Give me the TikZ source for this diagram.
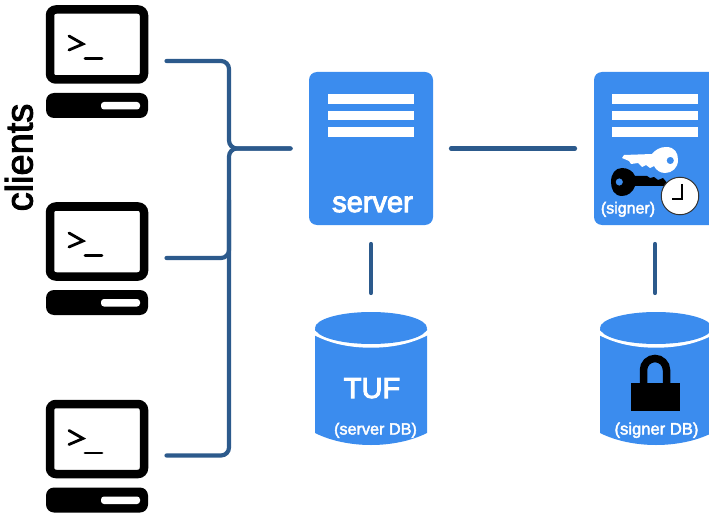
\documentclass[tikz,border=0pt]{standalone}
\usepackage{fontspec}
\setmainfont{Liberation Sans}
\newfontface\medfont[FakeBold=2.5]{Liberation Sans}
\newfontface\largefont[FakeBold=3.5]{Liberation Sans}
\newfontface\heavyfont[FakeBold=2.6]{Liberation Sans}
\definecolor{boxblue}{HTML}{3B8CEE}
\definecolor{linkblue}{HTML}{2C5A8C}
\tikzset{
  x=1pt,y=-1pt,
  link/.style={draw=linkblue,line width=4.2pt,line cap=round,rounded corners=8pt},
  host/.style={draw=black,line width=8.5pt,fill=white,rounded corners=6pt,minimum width=94pt,minimum height=70pt,inner sep=0pt,outer sep=0pt},
  hostbase/.style={fill=black,rounded corners=8pt,minimum width=102pt,minimum height=25pt,inner sep=0pt,outer sep=0pt},
  panel/.style={fill=boxblue,rounded corners=8pt,minimum width=124pt,minimum height=153pt,inner sep=0pt,outer sep=0pt},
  bar/.style={fill=white,minimum width=86pt,minimum height=9.6pt,inner sep=0pt,outer sep=0pt},
  dbspot/.style={minimum width=112pt,minimum height=133pt,inner sep=0pt,outer sep=0pt},
  label/.style={text=white,inner sep=0pt,outer sep=0pt,anchor=base},
}
\begin{document}
\begin{tikzpicture}
\useasboundingbox (0,0) rectangle (709,513);
% clients
\foreach \n/\d in {1/0,2/197,3/394.5}{
  \node[host] (client\n) at (97,44.5+\d) {};
  \node[hostbase] (base\n) at (97,105.5+\d) {};
  \fill[white,rounded corners=3pt] (101,102+\d) rectangle (140,109.5+\d);
  \draw[line width=2.8pt,line cap=round] (69,36+\d) -- (83,44+\d) -- (69,50+\d);
  \draw[line width=2.8pt,line cap=round] (85,58.5+\d) -- (102,58.5+\d);
  \coordinate (tap\n) at (166.5,61+\d);
}
\node[rotate=90,anchor=base,inner sep=0pt] (clientslabel) at (32.5,157.5) {\fontsize{38pt}{38pt}\heavyfont clients};
% server
\node[panel] (server) at (371,148.5) {};
\node[panel] (signer) at (656,148.5) {};
\foreach \b/\x in {server/371,signer/655}{
  \node[bar] (\b bara) at (\x,99) {};
  \node[bar] (\b barb) at (\x,115.5) {};
  \node[bar] (\b barc) at (\x,132) {};
}
\node[label] (servertext) at (372.5,212) {\fontsize{29pt}{29pt}\largefont server};
% keys
\fill[white,even odd rule]
  (666,147) .. controls (675,147) and (678,153) .. (678,160)
  .. controls (678,168) and (672,173) .. (665,173)
  .. controls (660,173) and (656,170) .. (654,166)
  -- (650,168) -- (646,165) -- (642,167) -- (638,163) -- (631,164) -- (629,161) -- (622,158) -- (624,155) -- (652,154)
  .. controls (655,150) and (660,147) .. (666,147)
  (674,160.5) arc[start angle=0,end angle=360,radius=3.7];
\fill[black,even odd rule]
  (622,168) .. controls (628,168) and (633,171) .. (635,176)
  -- (647,176) -- (650,178) -- (654,177) -- (658,180) -- (663,178) -- (668,184) -- (666,186) -- (635,186)
  .. controls (633,192) and (628,196) .. (622,196)
  .. controls (614,196) and (611,189) .. (611,182)
  .. controls (611,174) and (615,168) .. (622,168)
  (623,182) arc[start angle=0,end angle=360,radius=3.7];
% clock
\node[circle,draw=black!80,line width=1pt,fill=white,minimum size=37.5pt,inner sep=0pt] (clock) at (680,196) {};
\draw[line width=1.2pt] (682,184) -- (682,199) -- (672,199);
\node[label] (signertext) at (628,213.5) {\fontsize{16pt}{16pt}\medfont (signer)};
% databases
\foreach \b/\x in {serverdb/371,signerdb/656}{
  \fill[boxblue] (\x-56,337) -- (\x-56,433) .. controls (\x-40,441) and (\x-20,445) .. (\x,445)
    .. controls (\x+20,445) and (\x+40,441) .. (\x+56,433) -- (\x+56,337)
    -- (\x+56,328) -- (\x-56,328) -- cycle;
  \draw[white,line width=4.4pt] (\x-58,332) .. controls (\x-40,342) and (\x-20,345.5) .. (\x,345.5)
    .. controls (\x+20,345.5) and (\x+40,342) .. (\x+58,332);
  \fill[white] (\x-58,312) rectangle (\x+58,329);
  \fill[boxblue] (\x,328) ellipse[x radius=56,y radius=16];
  \node[dbspot] (\b) at (\x,378.5) {};
}
\node[label] (tuf) at (372,398) {\fontsize{29pt}{29pt}\largefont TUF};
\node[label] (serverdbtext) at (375.5,434.5) {\fontsize{16.2pt}{16.2pt}\medfont (server DB)};
\node[label] (signerdbtext) at (656.5,434.5) {\fontsize{16.6pt}{16.6pt}\medfont (signer DB)};
% lock
\fill[black] (631,383) rectangle (679.5,411);
\draw[black,line width=7.5pt] (643.5,385) -- (643.5,370) arc[start angle=180,end angle=360,radius=11.5] -- (666.5,385);
% connectors
\coordinate (bus) at (229,148.5);
\draw[link,shorten >=18.5pt] (tap1) -| (bus) -- (server.west);
\draw[link,shorten >=18.5pt] (tap3) -| (bus) -- (server.west);
\draw[link] (tap2) -| (229,200);
\draw[link,shorten <=18pt,shorten >=19pt] (server.east) -- (signer.west);
\draw[link,shorten <=19pt,shorten >=19pt] (server.south) -- (serverdb.north);
\draw[link,shorten <=19pt,shorten >=19pt] (signer.south -| 655,0) -- (signerdb.north -| 655,0);
\end{tikzpicture}
\end{document}
